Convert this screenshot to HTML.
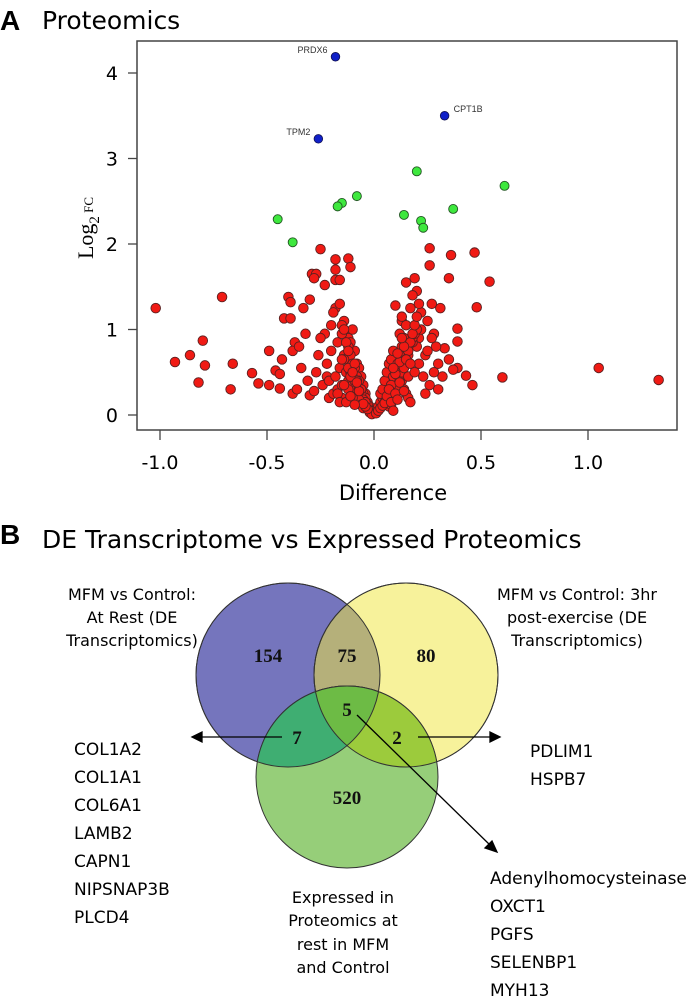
<!DOCTYPE html>
<html><head><meta charset="utf-8"><style>
html,body{margin:0;padding:0;background:#fff;}
body{width:691px;height:996px;overflow:hidden;position:relative;font-family:"DejaVu Sans","Liberation Sans",sans-serif;}
</style></head><body>
<svg id="chart" width="691" height="996" viewBox="0 0 691 996" xmlns="http://www.w3.org/2000/svg">
<g>
<text x="0" y="30" font-family="Liberation Sans, sans-serif" font-weight="bold" font-size="28" fill="#000">A</text>
<text x="42" y="29" font-family="DejaVu Sans, sans-serif" font-size="25" fill="#000">Proteomics</text>
<rect x="137" y="41" width="540" height="389" fill="none" stroke="#444" stroke-width="1.5"/>
<g id="yaxis"></g>
<g id="xaxis"></g>
<g id="points"></g>
<text transform="translate(93,228) rotate(-90)" text-anchor="middle" font-family="Liberation Serif, serif" font-size="22" fill="#000">Log<tspan font-size="15" dy="6">2</tspan><tspan font-size="13" dy="-6"> FC</tspan></text>
<text x="393" y="500" text-anchor="middle" font-family="DejaVu Sans, sans-serif" font-size="21" fill="#000">Difference</text>
</g>
<g>
<text x="0" y="544" font-family="Liberation Sans, sans-serif" font-weight="bold" font-size="28" fill="#000">B</text>
<text x="42" y="548" font-family="DejaVu Sans, sans-serif" font-size="25" fill="#000">DE Transcriptome vs Expressed Proteomics</text>
<circle cx="288" cy="675" r="92" fill="#7575bd" stroke="#333" stroke-width="1"/>
<circle cx="406" cy="675" r="92" fill="#f6f08a" fill-opacity="0.85" stroke="#333" stroke-width="1"/>
<clipPath id="cb"><circle cx="288" cy="675" r="92"/></clipPath>
<circle cx="406" cy="675" r="92" fill="#b5b07a" clip-path="url(#cb)" stroke="#333"/>
<circle cx="347" cy="777" r="91" fill="#8bc96a" fill-opacity="0.9" stroke="#333" stroke-width="1"/>
<clipPath id="cy"><circle cx="406" cy="675" r="92"/></clipPath>
<circle cx="347" cy="777" r="91" fill="#3fae72" clip-path="url(#cb)" stroke="#333"/>
<circle cx="347" cy="777" r="91" fill="#9ccb3c" clip-path="url(#cy)" stroke="#333"/>
<g clip-path="url(#cb)"><circle cx="347" cy="777" r="91" fill="#6dbb45" clip-path="url(#cy)" stroke="#333"/></g>
<circle cx="288" cy="675" r="92" fill="none" stroke="#333" stroke-width="1"/>
<circle cx="406" cy="675" r="92" fill="none" stroke="#333" stroke-width="1"/>
<g font-family="Liberation Serif, serif" font-weight="bold" font-size="19" fill="#111" text-anchor="middle">
<text x="268" y="662">154</text>
<text x="347" y="662">75</text>
<text x="426" y="662">80</text>
<text x="347" y="716">5</text>
<text x="297" y="744">7</text>
<text x="397" y="744">2</text>
<text x="347" y="804">520</text>
</g>
<g stroke="#000" stroke-width="1.3" fill="#000">
<line x1="282" y1="737" x2="200" y2="737"/>
<polygon points="192,737 202,732 202,742"/>
<line x1="418" y1="737" x2="492" y2="737"/>
<polygon points="500,737 490,732 490,742"/>
<line x1="357" y1="715" x2="491" y2="846"/>
<polygon points="497,852 485,848 492,841"/>
</g>
<g font-family="DejaVu Sans, sans-serif" font-size="16" fill="#000" text-anchor="middle">
<text><tspan x="132" y="600">MFM vs Control:</tspan><tspan x="132" y="623">At Rest (DE</tspan><tspan x="132" y="646">Transcriptomics)</tspan></text>
<text><tspan x="577" y="600">MFM vs Control: 3hr</tspan><tspan x="577" y="623">post-exercise (DE</tspan><tspan x="577" y="646">Transcriptomics)</tspan></text>
<text><tspan x="343" y="903">Expressed in</tspan><tspan x="343" y="926">Proteomics at</tspan><tspan x="343" y="950">rest in MFM</tspan><tspan x="343" y="973">and Control</tspan></text>
</g>
<g font-family="DejaVu Sans, sans-serif" font-size="17" fill="#000">
<text><tspan x="74" y="755">COL1A2</tspan><tspan x="74" y="783">COL1A1</tspan><tspan x="74" y="811">COL6A1</tspan><tspan x="74" y="839">LAMB2</tspan><tspan x="74" y="867">CAPN1</tspan><tspan x="74" y="895">NIPSNAP3B</tspan><tspan x="74" y="923">PLCD4</tspan></text>
<text><tspan x="530" y="757">PDLIM1</tspan><tspan x="530" y="785">HSPB7</tspan></text>
<text><tspan x="490" y="884">Adenylhomocysteinase</tspan><tspan x="490" y="912">OXCT1</tspan><tspan x="490" y="940">PGFS</tspan><tspan x="490" y="968">SELENBP1</tspan><tspan x="490" y="996">MYH13</tspan></text>
</g>
</g>
</svg>
<script>
const xTicks = [-1.0, -0.5, 0.0, 0.5, 1.0];
const xTickLabels = ["-1.0", "-0.5", "0.0", "0.5", "1.0"];
const yTicks = [0, 1, 2, 3, 4];
const yTickLabels = ["0", "1", "2", "3", "4"];
const blueX = [-0.18, 0.33, -0.26];
const blueY = [4.19, 3.50, 3.23];
const blueLabels = ["PRDX6", "CPT1B", "TPM2"];
const greenX = [0.20, 0.61, -0.08, -0.15, -0.17, -0.45, 0.14, 0.37, 0.22, 0.23, -0.38];
const greenY = [2.85, 2.68, 2.56, 2.48, 2.44, 2.29, 2.34, 2.41, 2.27, 2.19, 2.02];
const redX = [-1.02,-0.71,-0.80,-0.93,-0.86,-0.79,-0.82,-0.66,-0.67,-0.57,-0.54,-0.49,-0.49,-0.46,-0.44,-0.44,-0.43,-0.38,-0.37,-0.38,1.05,1.33,0.60,0.54,0.47,0.48,0.46,0.43,0.39,0.39,0.39,0.37,0.35,0.35,0.36,0.31,0.26,0.26,0.27,-0.25,-0.18,-0.12,-0.18,-0.11,-0.29,-0.27,-0.28,-0.23,-0.18,-0.16,-0.40,-0.39,-0.30,-0.42,-0.39,-0.33,-0.32,-0.31,-0.30,-0.28,0.33,0.32,0.30,0.29,0.28,0.25,0.24,0.22,0.20,0.21,0.19,0.18,0.17,0.15,0.13,0.12,0.10,0.28,0.30,0.26,0.24,0.23,0.21,0.27,0.25,0.22,0.20,0.18,0.16,0.14,0.12,
-0.35,-0.34,-0.36,-0.27,-0.26,-0.24,-0.23,-0.22,-0.21,-0.20,-0.19,-0.18,-0.17,-0.16,-0.15,-0.14,-0.13,-0.12,-0.11,-0.10,-0.09,-0.08,-0.07,-0.06,-0.05,-0.04,-0.03,-0.02,-0.01,0.0,
-0.25,-0.22,-0.20,-0.19,-0.17,-0.15,-0.14,-0.13,-0.12,-0.11,-0.10,-0.09,-0.08,-0.07,-0.06,-0.05,-0.04,-0.03,
-0.21,-0.18,-0.16,-0.15,-0.13,-0.12,-0.11,-0.10,-0.09,-0.08,-0.07,-0.06,-0.05,-0.04,
-0.17,-0.15,-0.14,-0.12,-0.10,-0.09,-0.08,-0.07,-0.06,-0.05,
0.01,0.02,0.03,0.04,0.05,0.06,0.07,0.08,0.09,0.10,0.11,0.12,0.13,0.14,0.15,0.16,0.17,0.18,0.19,0.20,
0.03,0.04,0.05,0.06,0.07,0.08,0.09,0.10,0.11,0.12,0.13,0.14,0.15,0.16,0.17,
0.05,0.06,0.07,0.08,0.09,0.10,0.11,0.12,0.13,0.14,0.15,
0.07,0.08,0.09,0.10,0.11,0.12,0.13,0.14,0.15,0.16,0.17,0.18,0.19,0.20,0.21,
-0.02,-0.01,0.01,0.02,0.03,-0.03,0.04,-0.04,0.05,-0.05,
-0.16,-0.14,-0.12,-0.10,-0.08,-0.06,-0.15,-0.13,-0.11,-0.09,-0.07,-0.14,-0.12,-0.10,-0.08,-0.13,-0.11,-0.09,
0.06,0.08,0.10,0.12,0.14,0.16,0.07,0.09,0.11,0.13,0.15,0.08,0.10,0.12,0.14,0.09,0.11,0.13,0.17,0.19];
const redY = [1.25,1.38,0.87,0.62,0.70,0.58,0.38,0.60,0.30,0.49,0.37,0.35,0.75,0.52,0.48,0.31,0.65,0.25,0.85,0.75,0.55,0.41,0.44,1.56,1.90,1.26,0.35,0.46,1.01,0.86,0.55,0.53,0.65,1.60,1.87,1.25,1.95,1.75,1.30,1.94,1.82,1.83,1.70,1.73,1.65,1.65,1.60,1.52,1.58,1.58,1.38,1.32,1.35,1.13,1.13,1.25,0.95,0.40,0.23,0.28,0.78,0.45,0.60,0.80,0.95,1.10,0.70,1.20,1.45,0.90,1.60,1.40,1.25,1.55,1.10,0.95,1.28,0.50,0.30,0.35,0.25,0.45,0.60,0.90,0.75,1.00,0.80,0.85,0.70,0.65,0.55,
0.80,0.55,0.30,0.50,0.70,0.35,0.95,0.45,0.20,1.05,0.25,1.25,0.30,1.30,0.20,1.10,0.95,0.90,0.85,1.00,0.75,0.60,0.55,0.45,0.35,0.25,0.15,0.10,0.05,0.02,
0.90,0.60,0.75,1.20,0.85,1.05,0.70,0.65,0.80,0.70,0.60,0.55,0.45,0.40,0.30,0.25,0.20,0.12,
0.40,0.45,0.55,0.95,0.50,0.40,0.50,0.35,0.40,0.30,0.30,0.25,0.18,0.15,
0.25,0.35,0.65,0.30,0.45,0.20,0.20,0.18,0.12,0.08,
0.06,0.10,0.15,0.20,0.25,0.30,0.35,0.40,0.45,0.50,0.55,0.60,0.65,0.70,0.75,0.80,0.85,0.90,0.95,1.00,
0.25,0.30,0.40,0.50,0.60,0.65,0.75,0.55,0.45,0.35,0.40,0.30,0.25,0.20,0.15,
0.15,0.20,0.30,0.35,0.45,0.50,0.60,0.70,0.80,0.90,1.05,
0.10,0.12,0.20,0.25,0.30,0.40,0.50,0.55,0.65,0.75,0.85,0.95,1.05,1.15,1.30,
0.03,0.01,0.02,0.05,0.08,0.07,0.11,0.10,0.14,0.13,
0.15,0.35,0.55,0.20,0.40,0.30,0.65,0.85,0.45,0.60,0.28,1.00,0.75,0.50,0.38,0.15,0.22,0.12,
0.22,0.35,0.48,0.62,0.80,0.45,0.30,0.55,0.72,0.90,0.65,0.15,0.25,0.38,0.28,0.05,0.18,1.15,0.60,0.50];

const NS = "http://www.w3.org/2000/svg";
const xs = v => 374 + v * 214;
const ys = v => 415 - v * 85.5;
function mk(tag, attrs, parent){const e=document.createElementNS(NS,tag);for(const k in attrs)e.setAttribute(k,attrs[k]);parent.appendChild(e);return e;}
const yax=document.getElementById('yaxis'), xax=document.getElementById('xaxis'), pts=document.getElementById('points');
yTicks.forEach((t,i)=>{
  const l=mk('line',{x1:128,x2:137,y1:ys(t),y2:ys(t),stroke:'#444','stroke-width':1.3},yax);
  
  
  const tx=mk('text',{x:118,y:ys(t)+7,'text-anchor':'end','font-size':19,'font-family':'DejaVu Sans, sans-serif',fill:'#000'},yax);
  tx.textContent=yTickLabels[i];
  
  
});
xTicks.forEach((t,i)=>{
  const l=mk('line',{x1:xs(t),x2:xs(t),y1:430,y2:440,stroke:'#444','stroke-width':1.3},xax);
  
  
  const tx=mk('text',{x:xs(t),y:469,'text-anchor':'middle','font-size':19,'font-family':'DejaVu Sans, sans-serif',fill:'#000'},xax);
  tx.textContent=xTickLabels[i];
  
  
});
redX.forEach((v,i)=>{
  const c=mk('circle',{cx:xs(v),cy:ys(redY[i]),r:4.8,fill:'#f01a14',stroke:'#5a2020','stroke-width':0.9},pts);
  
  
});
greenX.forEach((v,i)=>{
  const c=mk('circle',{cx:xs(v),cy:ys(greenY[i]),r:4.5,fill:'#3ee83e',stroke:'#225522','stroke-width':0.9},pts);
  
  
});
blueX.forEach((v,i)=>{
  const c=mk('circle',{cx:xs(v),cy:ys(blueY[i]),r:4.3,fill:'#1020c8',stroke:'#101050','stroke-width':0.8},pts);
  
  
  const right = i===1;
  const t=mk('text',{x:right?xs(v)+9:xs(v)-8,y:ys(blueY[i])-4,'text-anchor':right?'start':'end','font-size':9,'font-family':'Liberation Sans, sans-serif',fill:'#333'},pts);
  t.textContent=blueLabels[i];
  
  
});
</script>
</body></html>
